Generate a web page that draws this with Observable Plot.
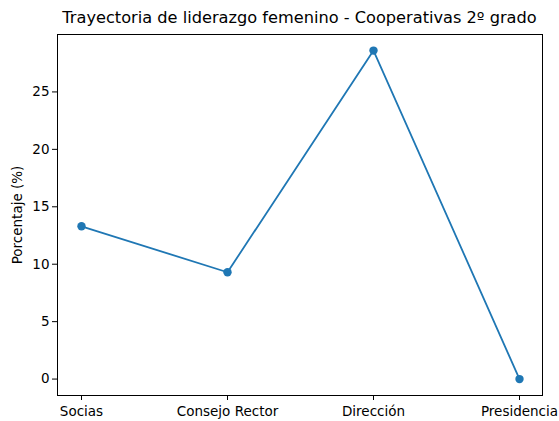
<!DOCTYPE html>
<html><head><meta charset="utf-8">
<script src="https://cdn.jsdelivr.net/npm/d3@7"></script>
<script src="https://cdn.jsdelivr.net/npm/@observablehq/plot@0.6"></script>
<style>
body{margin:0;background:#fff;}
#title{width:559px;box-sizing:border-box;padding-left:57px;padding-right:17px;height:30px;line-height:20px;padding-top:8px;text-align:center;font-family:"DejaVu Sans";font-size:16.2px;color:#000;}
</style></head>
<body>
<div id="title">Trayectoria de liderazgo femenino - Cooperativas 2º grado</div>
<div id="chart"></div>
<script>
const categories = ["Socias", "Consejo Rector", "Dirección", "Presidencia"];
const values = [13.3, 9.3, 28.6, 0];
const yTicks = [0, 5, 10, 15, 20, 25];
const data = categories.map((c, i) => ({cat: c, v: values[i]}));
const color = "#1f77b4";
const chart = Plot.plot({
  width: 559, height: 391,
  marginLeft: 57, marginRight: 17, marginTop: 4, marginBottom: 26,
  style: {fontFamily: "DejaVu Sans", fontSize: "13.5px", color: "#000", background: "#fff"},
  x: {type: "point", domain: categories, padding: 0.15},
  y: {domain: [-1.43, 30.0]},
  marks: [
    Plot.frame({stroke: "#000", strokeWidth: 1}),
    Plot.axisX({ticks: categories, tickSize: 5, tickPadding: 6, label: null, fontSize: 13.5}),
    Plot.axisY({ticks: yTicks, tickSize: 5, tickPadding: 3, label: "Porcentaje (%)", labelAnchor: "center", labelArrow: "none", labelOffset: 45, fontSize: 13.5}),
    Plot.line(data, {x: "cat", y: "v", stroke: color, strokeWidth: 1.8}),
    Plot.dot(data, {x: "cat", y: "v", fill: color, r: 4.2})
  ]
});
document.getElementById("chart").appendChild(chart);
</script>
</body></html>
